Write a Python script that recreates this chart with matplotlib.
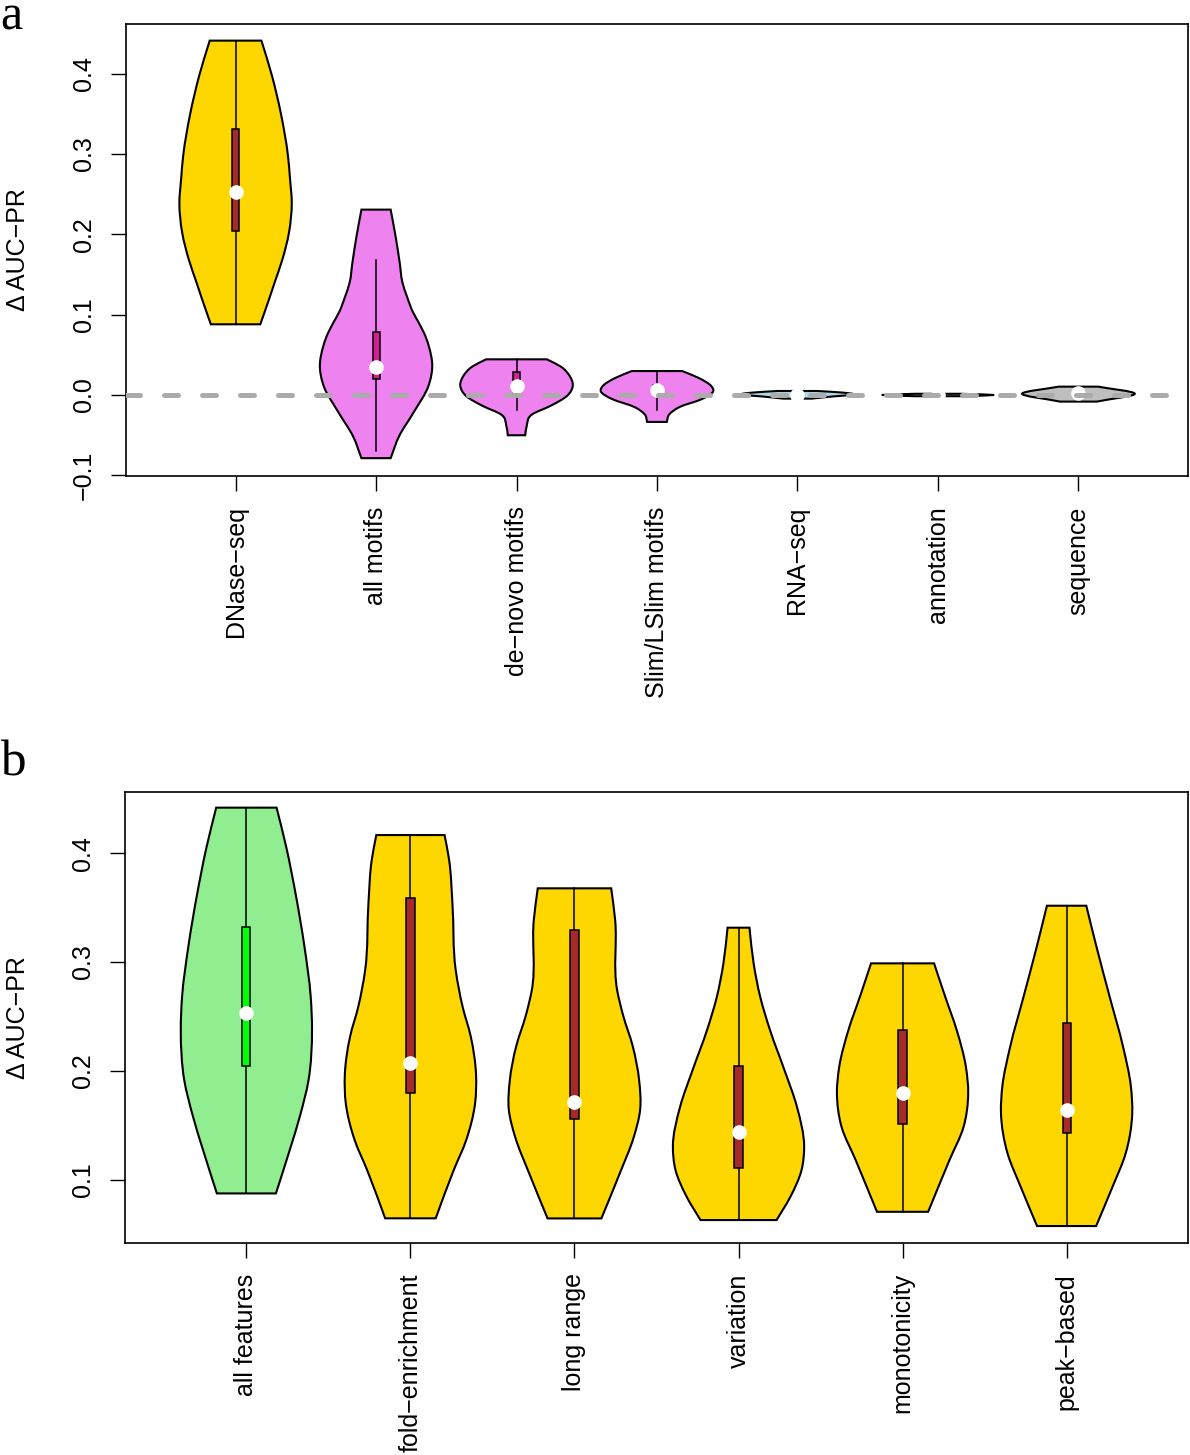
import matplotlib
matplotlib.use("Agg")
import matplotlib.pyplot as plt
from matplotlib.path import Path
from matplotlib.patches import PathPatch, Rectangle
import numpy as np

plt.rcParams['font.family'] = ['Liberation Sans', 'DejaVu Sans']

# ---------------- Panel a data ----------------
cats_a = ['DNase\u2212seq', 'all motifs', 'de\u2212novo motifs', 'Slim/LSlim motifs',
          'RNA\u2212seq', 'annotation', 'sequence']

dnase_y = [0.441, 0.398, 0.349, 0.299, 0.268, 0.239, 0.202, 0.168, 0.140, 0.119, 0.088]
dnase_d = [0.46, 0.645, 0.81, 0.93, 0.97, 1.0, 0.95, 0.83, 0.695, 0.595, 0.44]
motifs_y = [0.2307, 0.1965, 0.165, 0.140, 0.1226, 0.1027, 0.090, 0.073, 0.0605, 0.0369,
            0.0108, -0.0215, -0.0513, -0.0786]
motifs_d = [0.26, 0.35, 0.42, 0.47, 0.55, 0.66, 0.76, 0.88, 0.94, 1.0, 0.93, 0.67, 0.41, 0.26]
denovo_y = [0.0444, 0.0357, 0.0232, 0.0108, -0.0016, -0.014, -0.024, -0.0389, -0.0501]
denovo_d = [0.54, 0.78, 0.95, 1.0, 0.89, 0.59, 0.28, 0.18, 0.155]
slim_y = [0.0298, 0.0216, 0.0112, 0.0046, -0.0053, -0.0147, -0.024, -0.0335]
slim_d = [0.45, 0.73, 0.965, 1.0, 0.79, 0.41, 0.22, 0.175]
rna_y = [0.005, 0.003, 0.0005, -0.002, -0.0045]
rna_d = [0.35, 0.8, 1.0, 0.6, 0.25]
annot_y = [0.0015, 0.0, -0.0015]
annot_d = [0.4, 1.0, 0.4]
seq_y = [0.0104, 0.002, -0.0082]
seq_d = [0.35, 1.0, 0.33]

prof_a = [(dnase_y, dnase_d), (motifs_y, motifs_d), (denovo_y, denovo_d), (slim_y, slim_d),
          (rna_y, rna_d), (annot_y, annot_d), (seq_y, seq_d)]

q1_a = [0.2046, 0.0195, 0.006, 0.001, -0.0005, -0.0003, -0.001]
q3_a = [0.3313, 0.0788, 0.029, 0.012, 0.001, 0.0003, 0.004]
med_a = [0.2527, 0.0348, 0.0112, 0.0062, 0.0, 0.0, 0.002]
lo_a = [0.088, -0.0696, -0.0186, -0.019, -0.003, -0.0012, -0.006]
hi_a = [0.441, 0.1686, 0.0444, 0.0298, 0.004, 0.0012, 0.009]

fill_a = ['#FFD700', '#EE82EE', '#EE82EE', '#EE82EE', '#ADD8E6', '#D3D3D3', '#BEBEBE']
box_a = ['#A52A2A', '#D02090', '#D02090', '#D02090', '#ADD8E6', '#D3D3D3', '#BEBEBE']
yticks_a = [-0.1, 0.0, 0.1, 0.2, 0.3, 0.4]

# ---------------- Panel b data ----------------
cats_b = ['all features', 'fold\u2212enrichment', 'long range', 'variation',
          'monotonicity', 'peak\u2212based']

allf_y = [0.4420, 0.4061, 0.3601, 0.3141, 0.2681, 0.2374, 0.1914, 0.1592, 0.1270, 0.0872]
allf_d = [0.46, 0.606, 0.758, 0.885, 0.98, 1.0, 0.947, 0.82, 0.66, 0.45]
fold_y = [0.4168, 0.3938, 0.3540, 0.2926, 0.2589, 0.2313, 0.1961, 0.1700, 0.1363, 0.1087, 0.0643]
fold_d = [0.52, 0.59, 0.64, 0.69, 0.795, 0.92, 1.0, 0.985, 0.85, 0.66, 0.385]
long_y = [0.3678, 0.3386, 0.2742, 0.2512, 0.2221, 0.1914, 0.1639, 0.1393, 0.1056, 0.0642]
long_d = [0.56, 0.62, 0.65, 0.74, 0.89, 0.985, 1.0, 0.905, 0.69, 0.41]
var_y = [0.3316, 0.2988, 0.2681, 0.2374, 0.2006, 0.1669, 0.1301, 0.1086, 0.0841, 0.0627]
var_d = [0.167, 0.23, 0.33, 0.48, 0.70, 0.89, 1.0, 0.96, 0.79, 0.58]
mono_y = [0.2988, 0.2681, 0.2374, 0.2037, 0.1792, 0.1485, 0.1179, 0.0703]
mono_d = [0.48, 0.65, 0.825, 0.965, 1.0, 0.93, 0.715, 0.39]
peak_y = [0.3518, 0.3141, 0.2681, 0.2221, 0.1853, 0.1608, 0.1240, 0.0933, 0.0572]
peak_d = [0.30, 0.455, 0.656, 0.86, 0.98, 1.0, 0.90, 0.70, 0.45]

prof_b = [(allf_y, allf_d), (fold_y, fold_d), (long_y, long_d), (var_y, var_d),
          (mono_y, mono_d), (peak_y, peak_d)]

q1_b = [0.2046, 0.1792, 0.1556, 0.1102, 0.1510, 0.1430]
q3_b = [0.3325, 0.3592, 0.3293, 0.2043, 0.2374, 0.2442]
med_b = [0.2528, 0.2068, 0.1710, 0.1439, 0.1792, 0.1639]
lo_b = [0.0872, 0.0643, 0.0642, 0.0627, 0.0703, 0.0572]
hi_b = [0.4420, 0.4168, 0.3678, 0.3316, 0.2988, 0.3518]

fill_b = ['#90EE90', '#FFD700', '#FFD700', '#FFD700', '#FFD700', '#FFD700']
box_b = ['#00FF00', '#A52A2A', '#A52A2A', '#A52A2A', '#A52A2A', '#A52A2A']
yticks_b = [0.1, 0.2, 0.3, 0.4]

ylabel = '\u0394 AUC\u2212PR'

W, H = 1190, 1455
FS = 18
fig = plt.figure(figsize=(W / 100, H / 100), dpi=100)


def hermite_side(ys, ws):
    """Cubic Hermite (w as function of y) through the points, as Bezier segments."""
    ys = np.asarray(ys, float)
    ws = np.asarray(ws, float)
    n = len(ys)
    h = np.diff(ys)
    dl = np.diff(ws) / h
    m = np.zeros(n)
    if n > 1:
        m[0] = dl[0]
        m[-1] = dl[-1]
    for i in range(1, n - 1):
        m[i] = (h[i] * dl[i - 1] + h[i - 1] * dl[i]) / (h[i - 1] + h[i])
    verts, codes = [], []
    for i in range(n - 1):
        dy = h[i]
        c1 = (ws[i] + m[i] * dy / 3.0, ys[i] + dy / 3.0)
        c2 = (ws[i + 1] - m[i + 1] * dy / 3.0, ys[i + 1] - dy / 3.0)
        verts += [c1, c2, (ws[i + 1], ys[i + 1])]
        codes += [Path.CURVE4] * 3
    return verts, codes


def violin(ax, center, ys, ds, face, half=0.4):
    ys = np.asarray(ys, float)
    hw = np.asarray(ds, float) * half
    lw_ = center - hw
    rw_ = center + hw
    verts = [(lw_[0], ys[0])]
    codes = [Path.MOVETO]
    v, c = hermite_side(ys, lw_)
    verts += v; codes += c
    verts.append((rw_[-1], ys[-1])); codes.append(Path.LINETO)
    v, c = hermite_side(ys[::-1], rw_[::-1])
    verts += v; codes += c
    verts.append((lw_[0], ys[0])); codes.append(Path.CLOSEPOLY)
    ax.add_patch(PathPatch(Path(verts, codes), facecolor=face, edgecolor='black',
                           lw=1.5, zorder=2))


def panel(ax, cats, profs, q1, q3, med, lo, hi, fills, boxes, yticks, xlim, ylim):
    xs = np.arange(1, len(cats) + 1)
    for i, x in enumerate(xs):
        ys, ds = profs[i]
        violin(ax, x, ys, ds, fills[i])
        ax.plot([x, x], [lo[i], hi[i]], color='black', lw=1.1, zorder=3)
        ax.add_patch(Rectangle((x - 0.025, q1[i]), 0.05, q3[i] - q1[i],
                               facecolor=boxes[i], edgecolor='black', lw=1.1, zorder=4))
        ax.plot([x], [med[i]], 'o', color='white', ms=9.5, mec='white', zorder=5)
    ax.set_xlim(*xlim)
    ax.set_ylim(*ylim)
    ax.set_xticks(xs)
    ax.set_xticklabels(cats, rotation=90, fontsize=FS, va='top', ha='center')
    ax.set_yticks(yticks)
    ax.set_yticklabels([('%.1f' % t).replace('-', '\u2212') for t in yticks],
                       rotation=90, fontsize=FS, va='center')
    ax.tick_params(axis='both', direction='out', length=10.8, width=1.0, pad=11)
    for s in ax.spines.values():
        s.set_linewidth(1.2)


# panel a
axa = fig.add_axes([126 / W, 1 - 476 / H, (1188 - 126) / W, (476 - 24) / H])
panel(axa, cats_a, prof_a, q1_a, q3_a, med_a, lo_a, hi_a, fill_a, box_a, yticks_a,
      (0.22, 7.78), (-0.1008, 0.4617))
axa.axhline(0.0, color='#ABABAB', lw=3.6, linestyle=(0, (2.8, 4.8)),
            dash_capstyle='round', zorder=6)

# panel b
axb = fig.add_axes([125 / W, 1 - 1243 / H, (1188 - 125) / W, (1243 - 792) / H])
panel(axb, cats_b, prof_b, q1_b, q3_b, med_b, lo_b, hi_b, fill_b, box_b, yticks_b,
      (0.26, 6.74), (0.0416, 0.4564))

fig.text(18.5 / W, 1 - 250 / H, ylabel, rotation=90, ha='center', va='center', fontsize=FS)
fig.text(18.5 / W, 1 - 1018 / H, ylabel, rotation=90, ha='center', va='center', fontsize=FS)

fig.text(0.0, 1 - 30 / H, 'a', family=['Liberation Serif', 'DejaVu Serif'], fontsize=36,
         ha='left', va='baseline')
fig.text(0.0, 1 - 775 / H, 'b', family=['Liberation Serif', 'DejaVu Serif'], fontsize=37,
         ha='left', va='baseline')

fig.savefig('out.png', dpi=100)
